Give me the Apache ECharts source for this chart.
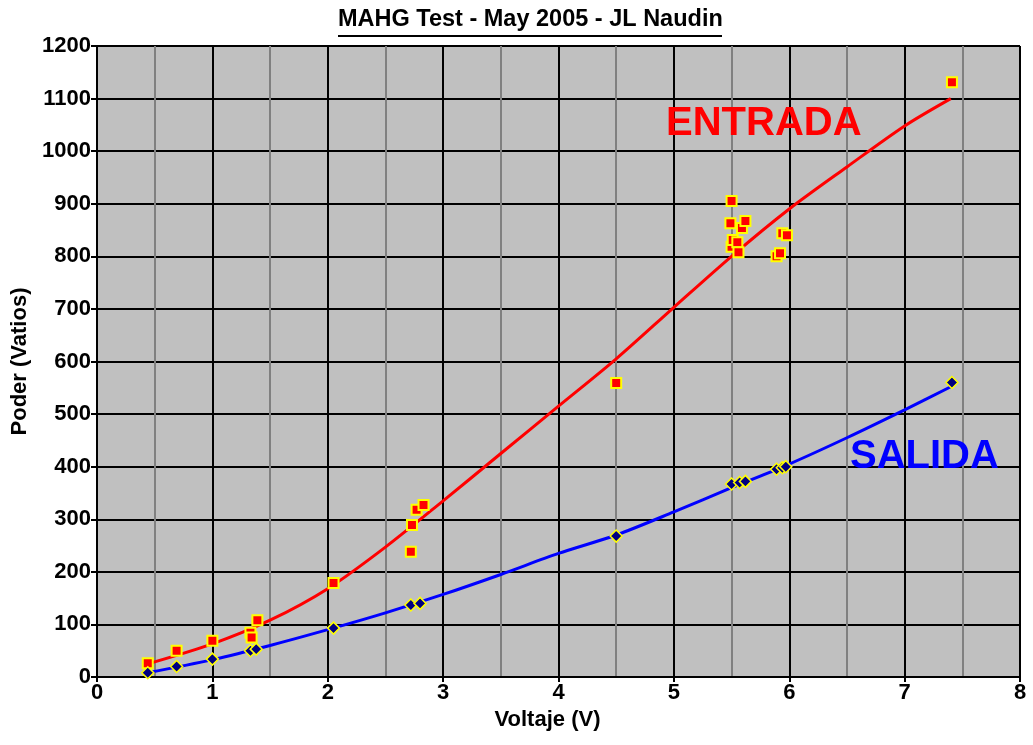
<!DOCTYPE html>
<html>
<head>
<meta charset="utf-8">
<script src="https://cdn.jsdelivr.net/npm/echarts@6/dist/echarts.min.js"></script>
<style>
html,body{margin:0;padding:0;background:#fff;}
#chart{width:1033px;height:745px;}
</style>
</head>
<body>
<div id="chart"></div>
<script>
// ---- data ----
const titleText = 'MAHG Test - May 2005 - JL Naudin';
const xTicks = [0,1,2,3,4,5,6,7,8];
const yTicks = [0,100,200,300,400,500,600,700,800,900,1000,1100,1200];

const entradaX = [0.44,0.69,1.00,1.33,1.34,1.39,2.05,2.72,2.73,2.77,2.83,4.50,5.49,5.50,5.50,5.51,5.55,5.56,5.59,5.62,5.89,5.92,5.94,5.98,7.41];
const entradaY = [26,50,69,84,75,108,179,238,289,318,327,559,863,905,818,831,827,808,854,867,800,806,844,840,1131];

const salidaX = [0.44,0.69,1.00,1.33,1.38,2.05,2.72,2.80,4.50,5.50,5.57,5.62,5.89,5.94,5.97,7.41];
const salidaY = [8,20,34,50,53,93,137,140,268,367,370,372,395,398,400,560];

const fitX = [0.44,1,1.5,2,2.5,3,3.5,4,4.5,5,5.5,6,6.5,7,7.4];
const entradaFit = [25,63,108,168,247,335,425,515,605,703,800,890,970,1048,1100];
const salidaFit = [8,33,60,90,122,157,195,235,270,314,360,405,455,508,552];

const zip = (a,b) => a.map((v,i)=>[v,b[i]]);

const chart = echarts.init(document.getElementById('chart'), null, {renderer:'canvas'});
const FONT = 'Liberation Sans, Arial, sans-serif';

chart.setOption({
  animation:false,
  backgroundColor:'#ffffff',
  grid:{left:97,right:13,top:46,bottom:68,show:true,backgroundColor:'#C0C0C0',borderWidth:0,
        containLabel:false,outerBoundsMode:'none'},
  xAxis:{
    type:'value',min:xTicks[0],max:xTicks[xTicks.length-1],interval:1,
    name:'Voltaje (V)',nameLocation:'middle',nameGap:30,
    nameTextStyle:{fontFamily:FONT,fontWeight:'bold',fontSize:22,color:'#000',padding:[0,22,0,0]},
    axisLine:{show:true,lineStyle:{color:'#000',width:2}},
    axisTick:{show:true,length:5,lineStyle:{color:'#000',width:2}},
    axisLabel:{fontFamily:FONT,fontWeight:'bold',fontSize:22,color:'#000',margin:5},
    splitLine:{show:true,lineStyle:{color:'#000',width:2}},
    minorTick:{show:false,splitNumber:2},
    minorSplitLine:{show:true,lineStyle:{color:'#808080',width:2}}
  },
  yAxis:{
    type:'value',min:yTicks[0],max:yTicks[yTicks.length-1],interval:100,
    name:'Poder (Vatios)',nameLocation:'middle',nameGap:64,nameRotate:90,
    nameTextStyle:{fontFamily:FONT,fontWeight:'bold',fontSize:22,color:'#000'},
    axisLine:{show:true,lineStyle:{color:'#000',width:2}},
    axisTick:{show:true,length:6,lineStyle:{color:'#000',width:2}},
    axisLabel:{fontFamily:FONT,fontWeight:'bold',fontSize:22,color:'#000',margin:6,
               formatter:v=>String(v)},
    splitLine:{show:true,lineStyle:{color:'#000',width:2}}
  },
  graphic:[
    {type:'text',left:338,top:8,style:{text:titleText,fontFamily:FONT,fontWeight:'bold',fontSize:23.5,fill:'#000'}},
    {type:'rect',shape:{x:338,y:35,width:384,height:2},style:{fill:'#000'}},
    {type:'text',left:666,top:104,z:10,style:{text:'ENTRADA',fontFamily:FONT,fontWeight:'bold',fontSize:40,fill:'#FF0000'}},
    {type:'text',left:850,top:437,z:10,style:{text:'SALIDA',fontFamily:FONT,fontWeight:'bold',fontSize:40,fill:'#0000FF'}}
  ],
  series:[
    {type:'line',name:'fitE',data:zip(fitX,entradaFit),smooth:0.3,showSymbol:false,
     lineStyle:{color:'#FF0000',width:3},z:2},
    {type:'line',name:'fitS',data:zip(fitX,salidaFit),smooth:0.3,showSymbol:false,
     lineStyle:{color:'#0000FF',width:3},z:2},
    {type:'scatter',name:'Entrada',data:zip(entradaX,entradaY),symbol:'rect',symbolSize:10,
     itemStyle:{color:'#FF0000',borderColor:'#FFFF00',borderWidth:2,opacity:1},z:3},
    {type:'scatter',name:'Salida',data:zip(salidaX,salidaY),symbol:'diamond',symbolSize:12,
     itemStyle:{color:'#000080',borderColor:'#FFFF00',borderWidth:1.5,opacity:1},z:4}
  ]
});
</script>
</body>
</html>
